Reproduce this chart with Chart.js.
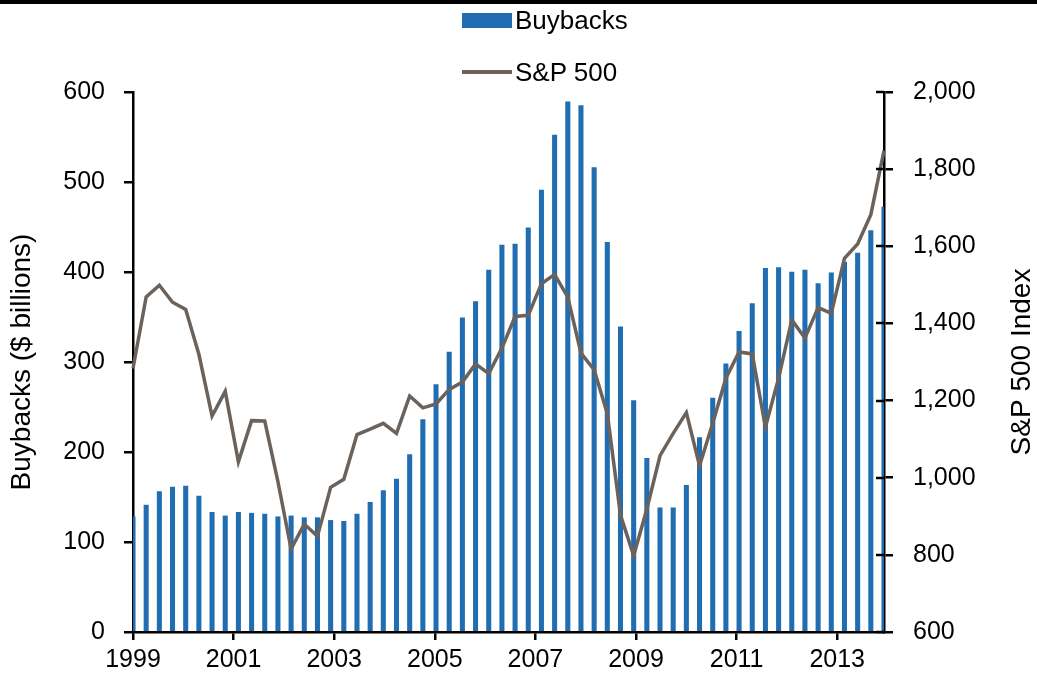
<!DOCTYPE html>
<html>
<head>
<meta charset="utf-8">
<script src="https://cdn.jsdelivr.net/npm/chart.js@4.4.1/dist/chart.umd.min.js"></script>
<style>
  body { margin: 0; background: #fff; font-family: "Liberation Sans", Arial, sans-serif; }
  #wrap { position: relative; width: 1037px; height: 679px; overflow: hidden; }
  #rule { position: absolute; left: 0; top: 0; width: 1037px; height: 4px; background: #000; }
  .key { position: absolute; left: 462px; width: 50px; }
  .lab { position: absolute; left: 515px; font-size: 26px; line-height: 30px; color: #000; }
  canvas { position: absolute; left: 0; top: 0; }
</style>
</head>
<body>
<div id="wrap">
  <canvas id="chart" width="1037" height="679"></canvas>
  <div id="rule"></div>
  <div class="key" style="top:13px;height:15px;background:#216db2"></div>
  <div class="lab" style="top:5px">Buybacks</div>
  <div class="key" style="top:70px;height:4px;background:#6b625b"></div>
  <div class="lab" style="top:57px">S&amp;P 500</div>
</div>
<script>
// quarter ends, Sep 1999 - Dec 2013
const quarters = ['Sep-99','Dec-99','Mar-00','Jun-00','Sep-00','Dec-00','Mar-01','Jun-01','Sep-01','Dec-01',
  'Mar-02','Jun-02','Sep-02','Dec-02','Mar-03','Jun-03','Sep-03','Dec-03','Mar-04','Jun-04',
  'Sep-04','Dec-04','Mar-05','Jun-05','Sep-05','Dec-05','Mar-06','Jun-06','Sep-06','Dec-06',
  'Mar-07','Jun-07','Sep-07','Dec-07','Mar-08','Jun-08','Sep-08','Dec-08','Mar-09','Jun-09',
  'Sep-09','Dec-09','Mar-10','Jun-10','Sep-10','Dec-10','Mar-11','Jun-11','Sep-11','Dec-11',
  'Mar-12','Jun-12','Sep-12','Dec-12','Mar-13','Jun-13','Sep-13','Dec-13'];

// trailing buybacks, $ billions
const buybacks = [128, 141, 156, 161, 162, 151, 133, 129, 133, 132,
  131, 128, 129, 127, 127, 124, 123, 131, 144, 157,
  170, 197, 236, 275, 311, 349, 367, 402, 430, 431,
  449, 491, 552, 589, 585, 516, 433, 339, 257, 193,
  138, 138, 163, 216, 260, 298, 334, 365, 404, 405,
  400, 402, 387, 399, 411, 421, 446, 472];

// S&P 500 index level
const spx = [1283, 1469, 1499, 1455, 1436, 1320, 1160, 1224, 1041, 1148,
  1147, 990, 815, 880, 848, 975, 996, 1112, 1126, 1141,
  1115, 1212, 1181, 1191, 1229, 1248, 1295, 1270, 1336, 1418,
  1421, 1503, 1527, 1468, 1323, 1280, 1166, 903, 798, 919,
  1057, 1115, 1169, 1031, 1141, 1258, 1326, 1321, 1131, 1258,
  1409, 1362, 1441, 1426, 1569, 1606, 1682, 1848];

const yearTicks = [1999, 2001, 2003, 2005, 2007, 2009, 2011, 2013];

const fontFamily = '"Liberation Sans", Arial, sans-serif';
const tickFont = {family: fontFamily, size: 25};

const innerTicks = {
  id: 'innerTicks',
  afterDraw(chart) {
    const ctx = chart.ctx;
    const s = chart.scales.y1;
    ctx.save();
    ctx.strokeStyle = '#000';
    ctx.lineWidth = 2.5;
    ctx.beginPath();
    s.ticks.forEach(function(t) {
      const y = Math.round(s.getPixelForValue(t.value));
      ctx.moveTo(s.left - 8, y);
      ctx.lineTo(s.left, y);
    });
    ctx.stroke();
    // right axis title reads bottom to top
    const a = chart.chartArea;
    ctx.translate(1022, (a.top + a.bottom) / 2);
    ctx.rotate(-Math.PI / 2);
    ctx.font = '28px ' + fontFamily;
    ctx.fillStyle = '#000';
    ctx.textAlign = 'center';
    ctx.textBaseline = 'middle';
    ctx.fillText('S&P 500 Index', 0, 0);
    ctx.restore();
  }
};

new Chart(document.getElementById('chart'), {
  type: 'bar',
  data: {
    labels: quarters,
    datasets: [{
      type: 'line',
      label: 'S&P 500',
      data: spx,
      yAxisID: 'y1',
      borderColor: '#6b625b',
      borderWidth: 3.5,
      pointRadius: 0,
      tension: 0,
      order: 1
    }, {
      label: 'Buybacks',
      data: buybacks,
      yAxisID: 'y',
      backgroundColor: '#216db2',
      barThickness: 4.4,
      order: 2
    }]
  },
  plugins: [innerTicks],
  options: {
    responsive: false,
    animation: false,
    devicePixelRatio: 1,
    layout: {padding: {top: 92, left: 0, right: 0, bottom: 0}},
    plugins: {legend: {display: false}, tooltip: {enabled: false}},
    scales: {
      x: {
        type: 'category',
        display: false,
        offset: false,
        grid: {offset: false}
      },
      years: {
        type: 'linear',
        position: 'bottom',
        min: 1999,
        max: 2013.93,
        offset: false,
        z: 1,
        afterBuildTicks: function(s) { s.ticks = yearTicks.map(function(v) { return {value: v}; }); },
        afterFit: function(s) { s.height = 47; },
        ticks: {font: tickFont, color: '#000', padding: 5, autoSkip: false, maxRotation: 0,
          callback: function(v) { return String(v); }},
        grid: {offset: false, drawOnChartArea: false, tickLength: 8, color: '#000', lineWidth: 2.5},
        border: {color: '#000', width: 2.5}
      },
      y: {
        position: 'left',
        min: 0,
        max: 600,
        z: 1,
        afterFit: function(s) { s.width = 133; },
        ticks: {stepSize: 100, font: tickFont, color: '#000', padding: 19},
        grid: {drawOnChartArea: false, tickLength: 9, color: '#000', lineWidth: 2.5},
        border: {color: '#000', width: 2.5},
        title: {display: true, text: 'Buybacks ($ billions)', color: '#000',
          font: {family: fontFamily, size: 28}, padding: {top: 5, bottom: 0}}
      },
      y1: {
        position: 'right',
        min: 600,
        max: 2000,
        z: 1,
        afterFit: function(s) { s.width = 153; },
        ticks: {stepSize: 200, font: tickFont, color: '#000', padding: 20,
          callback: function(v) { return v.toLocaleString('en-US'); }},
        grid: {drawOnChartArea: false, tickLength: 9, color: '#000', lineWidth: 2.5},
        border: {color: '#000', width: 2.5}
      }
    }
  }
});
</script>
</body>
</html>
